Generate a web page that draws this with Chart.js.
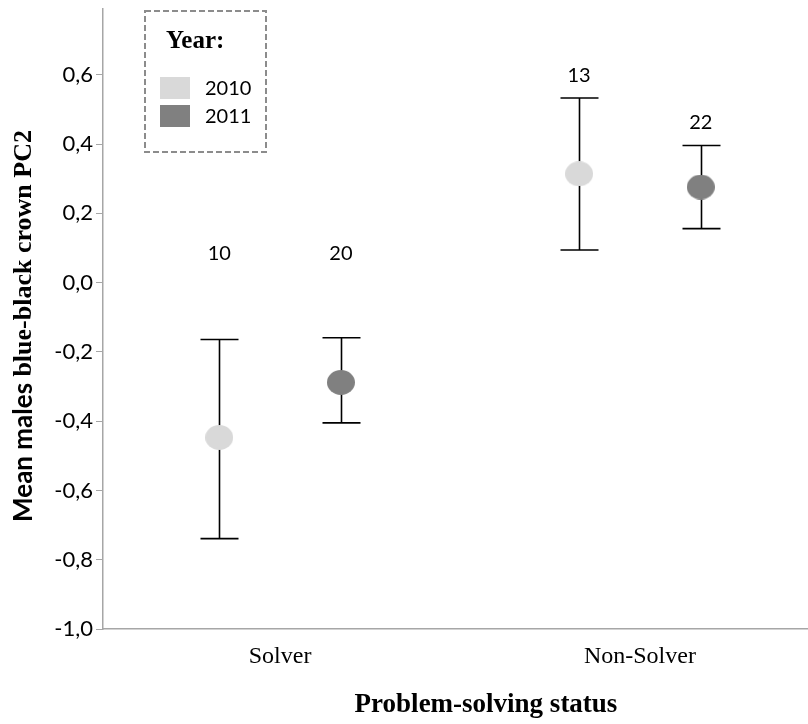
<!DOCTYPE html>
<html>
<head>
<meta charset="utf-8">
<script src="https://cdn.jsdelivr.net/npm/chart.js@4.4.1/dist/chart.umd.min.js"></script>
<style>
    html, body { margin: 0; padding: 0; background: #fff; }
    #wrap { width: 808px; height: 724px; position: relative; }
</style>
</head>
<body>
<div id="wrap"><canvas id="errorChart"></canvas></div>
<script>
// --------------------
// Data
// --------------------
const categories = ['Solver', 'Non-Solver'];
const years = ['2010', '2011'];

const means2010 = [-0.447, 0.314];
const lower2010 = [-0.739, 0.094];
const upper2010 = [-0.164, 0.533];
const counts2010 = [10, 13];

const means2011 = [-0.288, 0.276];
const lower2011 = [-0.405, 0.156];
const upper2011 = [-0.159, 0.396];
const counts2011 = [20, 22];

const yTicks = [-1.0, -0.8, -0.6, -0.4, -0.2, 0.0, 0.2, 0.4, 0.6];

// --------------------
// Styling
// --------------------
const yearColors = ['#d9d9d9', '#808080'];
const groupOffset = [-0.169, 0.169];
const axisColor = '#a6a6a6';
const sansFont = 'Lato, "Open Sans", sans-serif';
const serifFont = '"Liberation Serif", "DejaVu Serif", serif';

// ellipse marker like the SPSS output
function makeEllipse(color) {
    const c = document.createElement('canvas');
    c.width = 28;
    c.height = 25;
    const g = c.getContext('2d');
    g.fillStyle = color;
    g.beginPath();
    g.ellipse(14, 12.5, 14, 12.5, 0, 0, Math.PI * 2);
    g.fill();
    return c;
}

const seriesMeans = [means2010, means2011];
const seriesLower = [lower2010, lower2011];
const seriesUpper = [upper2010, upper2011];
const seriesCounts = [counts2010, counts2011];

const datasets = years.map((year, s) => ({
    label: year,
    data: categories.map((cat, i) => ({ x: i + groupOffset[s], y: seriesMeans[s][i] })),
    pointStyle: makeEllipse(yearColors[s]),
    backgroundColor: yearColors[s],
    borderColor: yearColors[s],
    pointRadius: 13,
    pointHoverRadius: 13
}));

// --------------------
// Error bars, counts, legend, titles
// --------------------
const errorBarPlugin = {
    id: 'errorBars',
    beforeDatasetsDraw(chart) {
        const { ctx, scales: { x, y } } = chart;
        ctx.save();
        ctx.strokeStyle = '#000';
        ctx.lineWidth = 1.6;
        years.forEach((year, s) => {
            categories.forEach((cat, i) => {
                const px = Math.round(x.getPixelForValue(i + groupOffset[s])) + 0.5;
                const top = y.getPixelForValue(seriesUpper[s][i]);
                const bot = y.getPixelForValue(seriesLower[s][i]);
                ctx.beginPath();
                ctx.moveTo(px, top);
                ctx.lineTo(px, bot);
                ctx.moveTo(px - 19, top);
                ctx.lineTo(px + 19, top);
                ctx.moveTo(px - 19, bot);
                ctx.lineTo(px + 19, bot);
                ctx.stroke();
            });
        });
        ctx.restore();
    },
    afterDatasetsDraw(chart) {
        const { ctx, scales: { x, y } } = chart;
        ctx.save();
        ctx.fillStyle = '#000';
        ctx.font = '20px ' + sansFont;
        ctx.textAlign = 'center';
        ctx.textBaseline = 'middle';
        years.forEach((year, s) => {
            categories.forEach((cat, i) => {
                const labelValue = Math.max(seriesUpper[s][i] + 0.065, 0.084);
                ctx.fillText(String(seriesCounts[s][i]),
                    x.getPixelForValue(i + groupOffset[s]),
                    y.getPixelForValue(labelValue));
            });
        });
        ctx.restore();
    },
    afterDraw(chart) {
        const { ctx } = chart;
        ctx.save();

        // legend box
        ctx.strokeStyle = '#8c8c8c';
        ctx.lineWidth = 2;
        ctx.setLineDash([6, 3]);
        ctx.strokeRect(145, 11, 121, 141);
        ctx.setLineDash([]);

        ctx.fillStyle = '#000';
        ctx.font = 'bold 25px ' + serifFont;
        ctx.textAlign = 'left';
        ctx.textBaseline = 'alphabetic';
        ctx.fillText('Year:', 166, 48);

        ctx.font = '20px ' + sansFont;
        ctx.textBaseline = 'middle';
        years.forEach((year, s) => {
            ctx.fillStyle = yearColors[s];
            ctx.fillRect(160, 77 + s * 28, 30, 22);
            ctx.fillStyle = '#000';
            ctx.fillText(year, 205, 89 + s * 28);
        });

        // x axis title
        ctx.font = 'bold 27px ' + serifFont;
        ctx.textAlign = 'center';
        ctx.fillText('Problem-solving status', 486, 705);

        // y axis title: mixed sans / serif runs as in the original
        const part1 = 'Mean males ';
        const part2 = 'blue-black crown PC2';
        const f1 = 'bold 26px ' + sansFont;
        const f2 = 'bold 26px ' + serifFont;
        ctx.font = f1;
        const w1 = ctx.measureText(part1).width;
        ctx.font = f2;
        const w2 = ctx.measureText(part2).width;
        ctx.translate(24, 326);
        ctx.rotate(-Math.PI / 2);
        ctx.textAlign = 'left';
        ctx.font = f1;
        ctx.fillText(part1, -(w1 + w2) / 2, 0);
        ctx.font = f2;
        ctx.fillText(part2, -(w1 + w2) / 2 + w1, 0);

        ctx.restore();
    }
};

// --------------------
// Chart
// --------------------
const ctx = document.getElementById('errorChart').getContext('2d');

new Chart(ctx, {
    type: 'scatter',
    data: { datasets },
    options: {
        responsive: true,
        maintainAspectRatio: false,
        animation: false,
        layout: { autoPadding: false, padding: { top: 9, right: 0, left: 0, bottom: 0 } },
        plugins: {
            legend: { display: false },
            tooltip: { enabled: false }
        },
        scales: {
            x: {
                type: 'linear',
                min: -0.492,
                max: 1.467,
                afterBuildTicks: scale => {
                    scale.ticks = categories.map((c, i) => ({ value: i }));
                },
                afterFit: scale => {
                    scale.height = 95;
                    scale.paddingLeft = 0;
                    scale.paddingRight = 0;
                },
                ticks: {
                    callback: value => categories[value] ?? '',
                    color: '#000',
                    font: { family: serifFont, size: 24 },
                    padding: 13,
                    maxRotation: 0
                },
                grid: { display: false, drawTicks: false },
                border: { display: true, color: axisColor, width: 1.5 }
            },
            y: {
                min: -1.0,
                max: 0.79,
                afterBuildTicks: scale => {
                    scale.ticks = yTicks.map(v => ({ value: v }));
                },
                afterFit: scale => {
                    scale.width = 103;
                    scale.paddingTop = 0;
                    scale.paddingBottom = 0;
                },
                ticks: {
                    callback: value => value.toFixed(1).replace('.', ','),
                    color: '#000',
                    font: { family: sansFont, size: 22 },
                    padding: 3
                },
                grid: {
                    drawOnChartArea: false,
                    drawTicks: true,
                    tickLength: 7,
                    color: axisColor
                },
                border: { display: true, color: axisColor, width: 1.5 }
            }
        }
    },
    plugins: [errorBarPlugin]
});
</script>
</body>
</html>
